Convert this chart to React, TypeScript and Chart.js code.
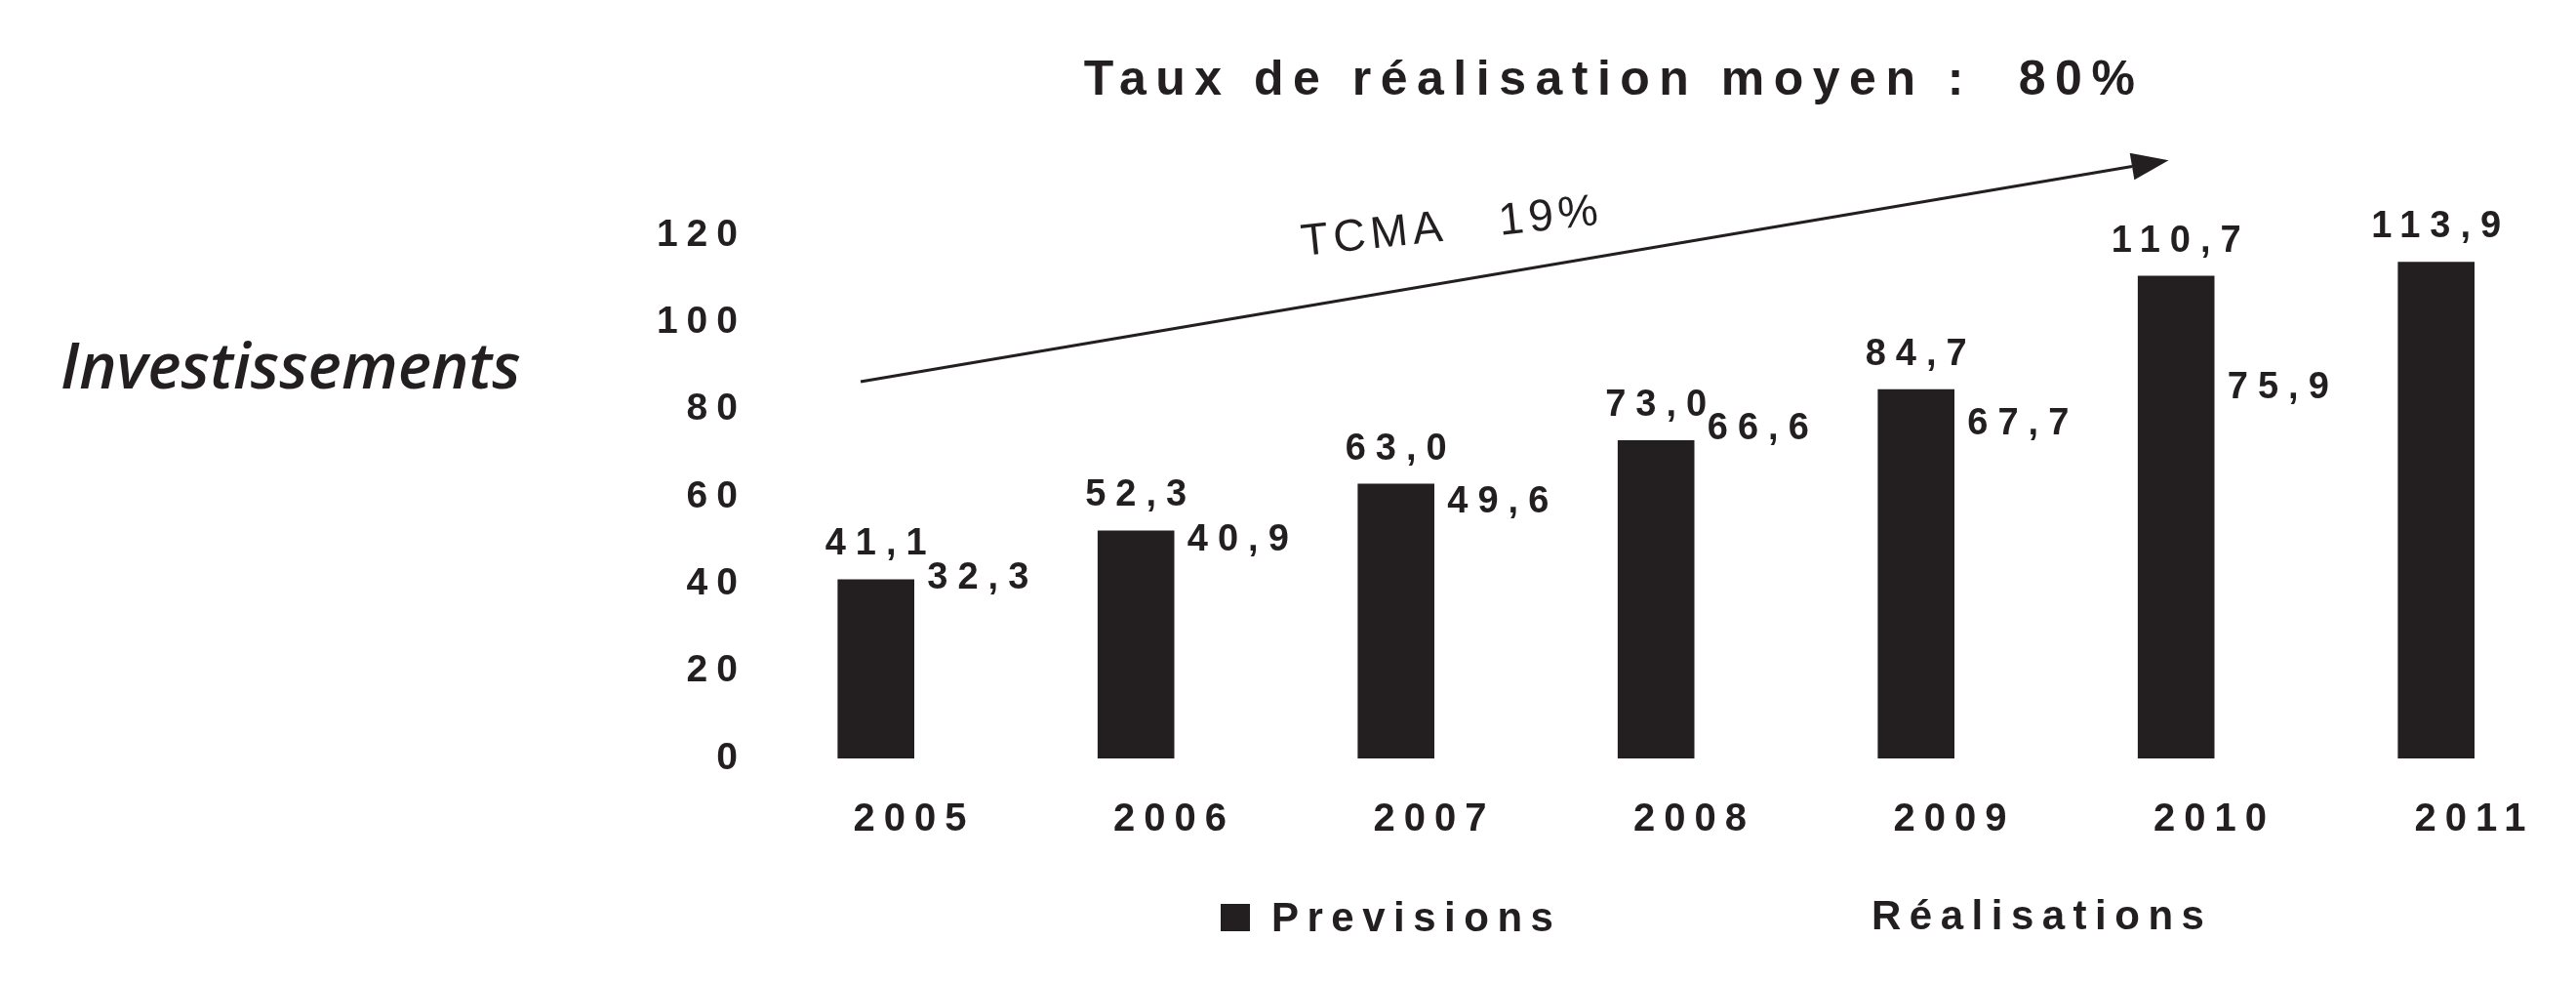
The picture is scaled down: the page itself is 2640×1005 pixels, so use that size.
import React, { useEffect, useRef } from 'react';
import { Chart, registerables } from 'chart.js';

Chart.register(...registerables);

// ---- data ----
const years = ['2005', '2006', '2007', '2008', '2009', '2010', '2011'];
const previsions = [41.1, 52.3, 63.0, 73.0, 84.7, 110.7, 113.9];
const realisations: (number | null)[] = [32.3, 40.9, 49.6, 66.6, 67.7, 75.9, null];
const yTickValues = [0, 20, 40, 60, 80, 100, 120];
const seriesNames = ['Previsions', 'Réalisations'];
const chartTitle = 'Taux de réalisation moyen :  80%';
const sideLabel = 'Investissements';
const trendLabel = 'TCMA   19%';

const INK = '#231f20';
const FONT = '"Liberation Sans", Arial, Helvetica, sans-serif';

const fmt = (v: number) => v.toFixed(1).replace('.', ',');

const decorPlugin = {
  id: 'decor',
  beforeDraw(chart: any) {
    chart.ctx.letterSpacing = '9px';
  },
  afterDraw(chart: any) {
    const ctx: CanvasRenderingContext2D = chart.ctx;
    const xs = chart.scales.x;
    const ys = chart.scales.y;
    ctx.save();
    ctx.fillStyle = INK;
    ctx.strokeStyle = INK;

    // title
    ctx.font = `bold 50px ${FONT}`;
    (ctx as any).letterSpacing = '9.5px';
    ctx.textAlign = 'center';
    ctx.textBaseline = 'alphabetic';
    ctx.fillText(chartTitle, 1654, 97);

    // side label
    ctx.font = `italic 600 65px "Open Sans", sans-serif`;
    (ctx as any).letterSpacing = '0px';
    ctx.textAlign = 'left';
    ctx.fillText(sideLabel, 62, 398);

    // value labels
    ctx.font = `bold 38px ${FONT}`;
    (ctx as any).letterSpacing = '10px';
    ctx.textAlign = 'center';
    chart.data.datasets.forEach((ds: any, di: number) => {
      const meta = chart.getDatasetMeta(di);
      meta.data.forEach((el: any, i: number) => {
        const v = ds.data[i];
        if (v === null || v === undefined) return;
        if (di === 0) {
          ctx.fillText(fmt(v), el.x + 5, el.y - 25);
        } else {
          ctx.fillText(fmt(v), el.x + 31, el.y - 30);
        }
      });
    });

    // trend arrow (anchored on the scales)
    const x0 = xs.getPixelForValue(0) - 55;
    const y0 = ys.getPixelForValue(86.4);
    const x1 = xs.getPixelForValue(5) - 47;
    const y1 = ys.getPixelForValue(137.2);
    const ang = Math.atan2(y1 - y0, x1 - x0);
    const headLen = 38;
    const headW = 14;
    const bx = x1 - headLen * Math.cos(ang);
    const by = y1 - headLen * Math.sin(ang);
    ctx.lineWidth = 3;
    ctx.beginPath();
    ctx.moveTo(x0, y0);
    ctx.lineTo(bx, by);
    ctx.stroke();
    ctx.beginPath();
    ctx.moveTo(x1, y1);
    ctx.lineTo(bx - headW * Math.sin(ang), by + headW * Math.cos(ang));
    ctx.lineTo(bx + headW * Math.sin(ang), by - headW * Math.cos(ang));
    ctx.closePath();
    ctx.fill();

    // trend text
    ctx.save();
    ctx.translate(1335, 262);
    ctx.rotate((-6 * Math.PI) / 180);
    ctx.font = `46px ${FONT}`;
    (ctx as any).letterSpacing = '5px';
    ctx.textAlign = 'left';
    ctx.fillText(trendLabel, 0, 0);
    ctx.restore();

    // legend
    ctx.font = `bold 42px ${FONT}`;
    (ctx as any).letterSpacing = '8.5px';
    ctx.textAlign = 'left';
    const ds0 = chart.data.datasets[0];
    const ds1 = chart.data.datasets[1];
    ctx.fillStyle = ds0.backgroundColor;
    ctx.fillRect(1251, 926, 30, 28);
    ctx.fillStyle = INK;
    ctx.fillText(ds0.label, 1303, 954);
    ctx.fillStyle = ds1.backgroundColor;
    ctx.fillRect(1864, 924, 30, 28);
    ctx.fillStyle = INK;
    ctx.fillText(ds1.label, 1918, 952);

    ctx.restore();
  },
};

export default function App() {
  const ref = useRef<HTMLCanvasElement | null>(null);

  useEffect(() => {
    if (!ref.current) return;
    const chart = new Chart(ref.current, {
      type: 'bar',
      data: {
        labels: years,
        datasets: [
          {
            label: seriesNames[0],
            data: previsions,
            backgroundColor: INK,
            categoryPercentage: 0.59,
            barPercentage: 1,
            clip: false as any,
          },
          {
            label: seriesNames[1],
            data: realisations,
            backgroundColor: '#ffffff',
            categoryPercentage: 0.59,
            barPercentage: 1,
            clip: false as any,
          },
        ],
      },
      options: {
        animation: false,
        responsive: false,
        devicePixelRatio: 1,
        layout: { padding: { left: 0, right: 104, top: 241, bottom: 128 } },
        plugins: {
          legend: { display: false },
          tooltip: { enabled: false },
          title: { display: false },
        },
        scales: {
          x: {
            offset: false,
            grid: { display: false, drawTicks: false },
            border: { display: false },
            ticks: {
              color: INK,
              padding: 39,
              autoSkip: false,
              maxRotation: 0,
              minRotation: 0,
              font: { family: FONT, size: 40, weight: 'bold' },
            },
            afterFit: (s: any) => {
              s.height = 100;
            },
          },
          y: {
            min: 0,
            max: 120,
            grid: { display: false, drawTicks: false },
            border: { display: false },
            afterBuildTicks: (s: any) => {
              s.ticks = yTickValues.map((v) => ({ value: v }));
            },
            ticks: {
              color: INK,
              padding: 172,
              font: { family: FONT, size: 39, weight: 'bold' },
            },
            afterFit: (s: any) => {
              s.width = 937;
            },
          },
        },
      },
      plugins: [decorPlugin],
    });
    return () => chart.destroy();
  }, []);

  return (
    <div style={{ position: 'absolute', left: 0, top: 0, width: 2640, height: 1005, background: '#ffffff' }}>
      <canvas ref={ref} width={2640} height={1005} style={{ display: 'block', width: 2640, height: 1005 }} />
    </div>
  );
}
